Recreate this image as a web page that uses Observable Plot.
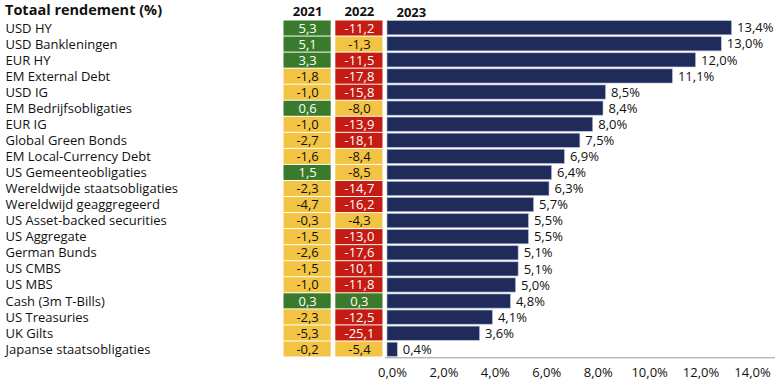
<!DOCTYPE html>
<html>
<head>
<meta charset="utf-8">
<script src="https://cdn.jsdelivr.net/npm/d3@7"></script>
<script src="https://cdn.jsdelivr.net/npm/@observablehq/plot@0.6"></script>
<style>
  html, body { margin: 0; padding: 0; background: #fff; }
  #wrap { position: relative; width: 780px; height: 382px; display: flex; font-family: "Open Sans", sans-serif; }
  #wrap svg { display: block; overflow: visible; flex: none; }
  #title { position: absolute; left: 5px; top: 0px; font: bold 14.5px "Open Sans", sans-serif; color: #111; z-index: 2; }
</style>
</head>
<body>
<div id="wrap"><div id="title">Totaal rendement (%)</div></div>
<script>
const categories = [
  "USD HY", "USD Bankleningen", "EUR HY", "EM External Debt", "USD IG",
  "EM Bedrijfsobligaties", "EUR IG", "Global Green Bonds", "EM Local-Currency Debt",
  "US Gemeenteobligaties", "Wereldwijde staatsobligaties", "Wereldwijd geaggregeerd",
  "US Asset-backed securities", "US Aggregate", "German Bunds", "US CMBS", "US MBS",
  "Cash (3m T-Bills)", "US Treasuries", "UK Gilts", "Japanse staatsobligaties"
];
const ret2021 = [5.3, 5.1, 3.3, -1.8, -1.0, 0.6, -1.0, -2.7, -1.6, 1.5, -2.3, -4.7, -0.3, -1.5, -2.6, -1.5, -1.0, 0.3, -2.3, -5.3, -0.2];
const ret2022 = [-11.2, -1.3, -11.5, -17.8, -15.8, -8.0, -13.9, -18.1, -8.4, -8.5, -14.7, -16.2, -4.3, -13.0, -17.6, -10.1, -11.8, 0.3, -12.5, -25.1, -5.4];
const ret2023 = [13.4, 13.0, 12.0, 11.1, 8.5, 8.4, 8.0, 7.5, 6.9, 6.4, 6.3, 5.7, 5.5, 5.5, 5.1, 5.1, 5.0, 4.8, 4.1, 3.6, 0.4];
const tableYears = ["2021", "2022"];
const barYear = "2023";
const xTicks = [0, 2, 4, 6, 8, 10, 12, 14];

const fmt = v => d3.format(".1f")(v).replace(".", ",").replace("\u2212", "-");
const cellFill = v => v > 0 ? "#3a7b2b" : (v < -10 ? "#c41b12" : "#f3c443");
const cellText = v => v > 0 || v < -10 ? "#ffffff" : "#111111";

const cells = [];
categories.forEach((c, i) => {
  cells.push({cat: c, year: tableYears[0], v: ret2021[i]});
  cells.push({cat: c, year: tableYears[1], v: ret2022[i]});
});
const bars = categories.map((c, i) => ({cat: c, v: ret2023[i]}));

const H = 382, MT = 20, MB = 25;
const FONT = "Open Sans";

const left = Plot.plot({
  width: 385, height: H,
  marginTop: MT, marginBottom: MB, marginLeft: 0, marginRight: 0,
  style: {fontFamily: FONT, fontSize: "13px", color: "#111", overflow: "visible"},
  x: {type: "band", domain: tableYears, range: [283, 383], paddingInner: 0.07, paddingOuter: 0, round: false, axis: null},
  y: {domain: categories, padding: 0, round: false, axis: null},
  marks: [
    Plot.cell(cells, {x: "year", y: "cat", fill: d => cellFill(d.v), inset: 0.5}),
    Plot.text(cells, {x: "year", y: "cat", text: d => fmt(d.v), fill: d => cellText(d.v), fontSize: 13}),
    Plot.text(categories, {y: d => d, text: d => d, frameAnchor: "left", dx: 5, textAnchor: "start", fontSize: 13, fill: "#111"}),
    Plot.axisX({anchor: "top", tickSize: 0, tickPadding: 5, fontWeight: "bold", fontSize: 13, label: null})
  ]
});

const right = Plot.plot({
  width: 395, height: H,
  marginTop: MT, marginBottom: MB, marginLeft: 2, marginRight: 33,
  style: {fontFamily: FONT, fontSize: "13px", color: "#111", overflow: "visible"},
  x: {domain: [0, 14], axis: null},
  y: {domain: categories, paddingInner: 0.12, paddingOuter: 0.04, round: false, axis: null},
  marks: [
    Plot.barX(bars, {x: "v", y: "cat", fill: "#1f2b5b", stroke: "#b9bfd4", strokeWidth: 0.6}),
    Plot.text(bars, {x: "v", y: "cat", text: d => fmt(d.v) + "%", textAnchor: "start", dx: 5, fontSize: 13, fill: "#111"}),
    Plot.text([barYear], {frameAnchor: "top-left", text: d => d, dx: 9, dy: -13, fontWeight: "bold", fontSize: 13, fill: "#111"}),
    Plot.ruleY([categories[categories.length - 1]], {dy: 8, stroke: "#999", strokeWidth: 1, insetLeft: -2, insetRight: -28}),
    Plot.axisX({ticks: xTicks, tickFormat: d => fmt(d) + "%", tickSize: 0, tickPadding: 10, dx: 5, fontSize: 13, label: null})
  ]
});

const wrap = document.getElementById("wrap");
wrap.appendChild(left);
wrap.appendChild(right);
</script>
</body>
</html>
